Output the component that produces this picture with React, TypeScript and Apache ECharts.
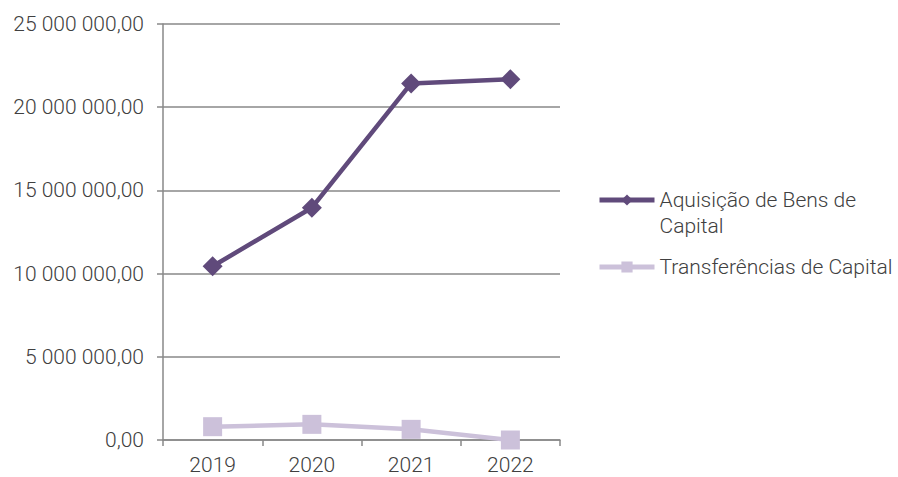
import React, { useEffect, useRef } from "react";
import * as echarts from "echarts";

const categories = ["2019", "2020", "2021", "2022"];
const aquisicao = [10440000, 13960000, 21430000, 21680000];
const transferencias = [800000, 940000, 640000, 0];
const seriesNames = ["Aquisição de Bens de Capital", "Transferências de Capital"];

const fmt = (v: number) => {
  const s = Math.round(v).toString().replace(/\B(?=(\d{3})+(?!\d))/g, " ");
  return s + ",00";
};

export default function App() {
  const ref = useRef<HTMLDivElement>(null);
  useEffect(() => {
    if (!ref.current) return;
    const chart = echarts.init(ref.current, undefined, { renderer: "svg" });
    const font = "Roboto";
    const legendText = {
      color: "#404040",
      fontSize: 21,
      fontFamily: font,
      fontWeight: 300,
      lineHeight: 26,
    };
    const legendCommon = {
      orient: "vertical",
      left: 597,
      itemWidth: 55,
      itemHeight: 14,
      padding: 0,
      textStyle: legendText,
      lineStyle: { width: 5 },
    };
    chart.setOption({
      animation: false,
      backgroundColor: "#ffffff",
      grid: { left: 163, right: 338, top: 24, bottom: 37, containLabel: false },
      xAxis: {
        type: "category",
        data: categories,
        boundaryGap: true,
        axisLine: { lineStyle: { color: "#898989", width: 1.5 } },
        axisTick: { show: true, length: 6, lineStyle: { color: "#898989", width: 1.5 } },
        axisLabel: {
          color: "#404040",
          fontSize: 21,
          fontFamily: font,
          fontWeight: 300,
          margin: 16,
          lineHeight: 18,
        },
      },
      yAxis: {
        type: "value",
        min: 0,
        max: 25000000,
        interval: 5000000,
        axisLine: { show: true, lineStyle: { color: "#898989", width: 1.5 } },
        axisTick: { show: true, length: 6, lineStyle: { color: "#898989", width: 1.5 } },
        splitLine: { show: true, lineStyle: { color: "#898989", width: 1.5 } },
        axisLabel: {
          color: "#404040",
          fontSize: 21,
          fontFamily: font,
          fontWeight: 300,
          margin: 19,
          formatter: (v: number) => fmt(v),
        },
      },
      legend: [
        {
          ...legendCommon,
          top: 161,
          data: [seriesNames[0]],
          formatter: () => " \nAquisição de Bens de\nCapital",
        },
        {
          ...legendCommon,
          top: 254,
          data: [seriesNames[1]],
        },
      ],
      series: [
        {
          name: seriesNames[0],
          type: "line",
          data: aquisicao,
          symbol: "diamond",
          symbolSize: 20,
          lineStyle: { color: "#604a7b", width: 4.5 },
          itemStyle: { color: "#604a7b" },
        },
        {
          name: seriesNames[1],
          type: "line",
          data: transferencias,
          symbol: "rect",
          symbolSize: 19,
          lineStyle: { color: "#ccc1da", width: 4.5 },
          itemStyle: { color: "#ccc1da" },
        },
      ],
    });
    return () => chart.dispose();
  }, []);
  return <div ref={ref} style={{ width: 898, height: 477, position: "absolute", left: 0, top: 0 }} />;
}
